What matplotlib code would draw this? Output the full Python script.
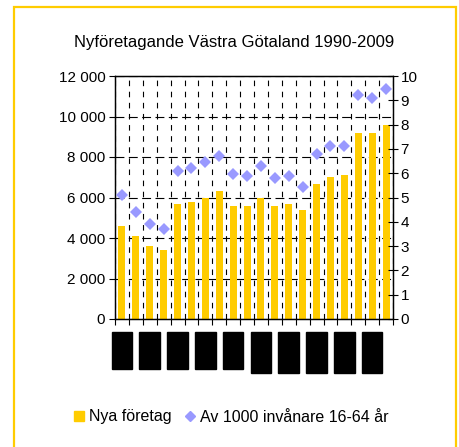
import matplotlib
matplotlib.use("Agg")
import matplotlib.pyplot as plt
from matplotlib.patches import Rectangle
from matplotlib.lines import Line2D
from matplotlib.transforms import blended_transform_factory

plt.rcParams["font.family"] = ["Liberation Sans", "DejaVu Sans"]

years = list(range(1990, 2010))
nya_foretag = [4600, 4100, 3600, 3400, 5700, 5800, 6000, 6300, 5600, 5600,
               6000, 5600, 5700, 5400, 6650, 7000, 7100, 9200, 9200, 9600]
per_1000 = [5.1, 4.4, 3.9, 3.7, 6.1, 6.2, 6.45, 6.7, 5.95, 5.9,
            6.3, 5.8, 5.9, 5.45, 6.8, 7.1, 7.1, 9.2, 9.1, 9.45]
left_ticks = [0, 2000, 4000, 6000, 8000, 10000, 12000]
left_labels = ["0", "2 000", "4 000", "6 000", "8 000", "10 000", "12 000"]
right_ticks = list(range(0, 11))

YELLOW = "#FFCC00"
LILAC = "#9999FF"

fig = plt.figure(figsize=(4.6, 4.47), dpi=100)
ax = fig.add_axes([115 / 460, 128 / 447, 278 / 460, 243 / 447])

x = list(range(len(years)))
ax.bar(x, nya_foretag, width=0.5, color=YELLOW, zorder=2)
ax.set_xlim(-0.5, len(years) - 0.5)
ax.set_ylim(0, 12000)
ax.set_yticks(left_ticks)
ax.set_yticklabels(left_labels, fontsize=11)
ax.set_xticks([i - 0.5 for i in range(len(years) + 1)])
ax.set_xticklabels([])
ax.tick_params(axis="x", direction="out", length=4, width=0.8)
ax.tick_params(axis="y", direction="out", length=4, width=0.8, pad=3)
ax.set_axisbelow(True)
ax.grid(axis="y", color="black", lw=0.8, ls=(0, (8, 4)))
ax.grid(axis="x", color="black", lw=0.8, ls=(0, (5, 5)))
for s in ax.spines.values():
    s.set_linewidth(0.9)

ax2 = ax.twinx()
ax2.plot(x, per_1000, ls="none", marker="D", ms=5.8, color=LILAC,
         markeredgewidth=0, zorder=3)
ax2.set_ylim(0, 10)
ax2.set_yticks(right_ticks)
ax2.tick_params(axis="y", direction="inout", length=7, width=0.8,
                labelsize=11, pad=2)
for s in ax2.spines.values():
    s.set_linewidth(0.9)

# redacted year labels (every other year)
tr = blended_transform_factory(ax.transData, fig.transFigure)
for i in range(0, len(years), 2):
    bottom = 1 - 369 / 447 if i < 10 else 1 - 373 / 447
    fig.add_artist(Rectangle((i - 0.74, bottom), 1.48, 1 - 332 / 447 - bottom,
                             transform=tr, color="black", clip_on=False))

fig.text(0.508, 1 - 42 / 447, "Nyföretagande Västra Götaland 1990-2009",
         ha="center", va="center", fontsize=12)

handles = [Line2D([], [], ls="none", marker="s", ms=7.5, color=YELLOW),
           Line2D([], [], ls="none", marker="D", ms=5.5, color=LILAC)]
fig.legend(handles, ["Nya företag", "Av 1000 invånare 16-64 år"],
           loc="center", bbox_to_anchor=(0.502, 1 - 417 / 447), ncol=2,
           frameon=False, fontsize=11.5, handlelength=0.7, handletextpad=0.3,
           columnspacing=0.8)

fig.add_artist(Rectangle((14 / 460, -0.05), 442 / 460, 0.05 + 1 - 7 / 447,
                         transform=fig.transFigure, fill=False,
                         edgecolor=YELLOW, lw=1.6))

fig.savefig("out.png", dpi=100)
